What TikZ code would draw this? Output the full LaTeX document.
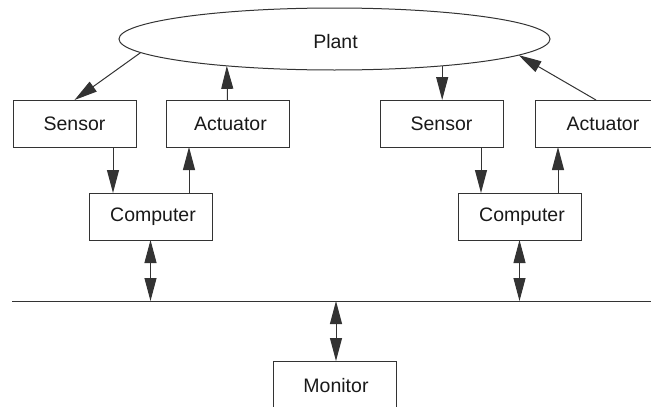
\documentclass[tikz,border=0pt]{standalone}
\usepackage{fontspec}
\setmainfont{Liberation Sans}
\usetikzlibrary{shapes.geometric,arrows.meta,calc}
\begin{document}
\begin{tikzpicture}[x=1pt,y=-1pt,
  line width=1pt, draw=black!80,
  every node/.style={font=\fontsize{19.5}{22}\selectfont, text=black!90},
  blk/.style={draw=black!80, rectangle, minimum width=123pt, minimum height=47pt, inner sep=0pt, outer sep=0pt},
  tip/.style={},
  arr/.style={-{Triangle[length=23pt,width=12pt]}},
  darr/.style={{Triangle[length=23pt,width=12pt]}-{Triangle[length=23pt,width=12pt]}}
]
\useasboundingbox (0,0) rectangle (651,407);
\clip (0,0) rectangle (651,407);
% plant
\node[draw=black!80, ellipse, minimum width=431pt, minimum height=62pt, inner sep=0pt, outer sep=0pt] (plant) at (334.5,39) {};
\node at (335.5,42) {Plant};
% left group
\node[blk] (sensor1) at (74.5,123.5) {Sensor};
\node[blk] (act1) at (227.5,123.5) {\hspace*{6pt}Actuator};
\node[blk] (comp1) at (150.5,216.5) {\hspace*{5pt}Computer};
% right group
\node[blk] (sensor2) at (441.5,123.5) {Sensor};
\node[blk, minimum width=130pt] (act2) at (600,123.5) {\hspace*{6pt}Actuator};
\node[blk] (comp2) at (519.5,216.5) {\hspace*{5pt}Computer};
% monitor
\node[blk] (mon) at (335,384.5) {};
\node at (336,386) {Monitor};
% bus
\coordinate (busL) at (12,301);
\coordinate (busR) at (651,301);
\draw (busL) -- (busR);
% helper x positions
\coordinate (x1) at ($(comp1.north west)+(24,0)$);
\coordinate (x2) at ($(act1.south west)+(23,0)$);
\coordinate (x3) at ($(comp2.north west)+(23,0)$);
\coordinate (x4) at ($(act2.south west)+(23,0)$);
\coordinate (x5) at (596,0);
\coordinate (x6) at (336,0);
% plant -> sensors, actuators -> plant
\draw[arr] (plant.184.75) -- (sensor1.north);
\draw[arr] (act1.north) -- (plant.194.1);
\draw[arr] (plant.346) -- (plant.346 |- sensor2.north);
\draw[arr] (x5 |- act2.north) -- (plant.355.1);
% sensor -> computer, computer -> actuator
\draw[arr] (x1 |- sensor1.south) -- (x1);
\draw[arr] (x2 |- comp1.north) -- (x2);
\draw[arr] (x3 |- sensor2.south) -- (x3);
\draw[arr] (x4 |- comp2.north) -- (x4);
% computers <-> bus, bus <-> monitor
\draw[darr] (comp1.south) -- (comp1.south |- busL);
\draw[darr] (comp2.south) -- (comp2.south |- busL);
\draw[darr] (x6 |- mon.north) -- (x6 |- busL);
\end{tikzpicture}
\end{document}
